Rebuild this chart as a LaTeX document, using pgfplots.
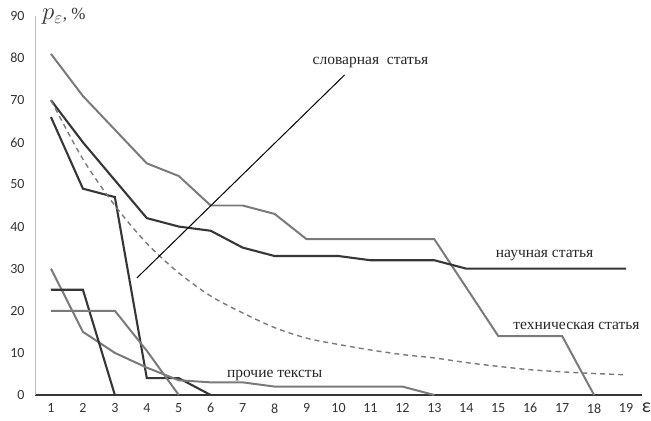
\documentclass[border=0pt]{standalone}
\usepackage{fontspec}
\setmainfont{Liberation Serif}
\newfontfamily\tickfont{Carlito}
\usepackage{pgfplots}
\pgfplotsset{compat=1.18}
\usepackage{pgfplotstable}

\definecolor{dk}{HTML}{363636}
\definecolor{gr}{HTML}{7A7A7A}
\definecolor{axgr}{HTML}{B8B8B8}

% x, technical, scientific, dark66, trend(dashed), other30, dark25, gray20
\pgfplotstableread{
x  tech  sci  dk  trend  oth  dkb  grb
1  81    70   66  70     30   25   20
2  71    60   49  56     15   25   20
3  63    51   47  45     10   0    20
4  55    42   4   36     6.5  nan  10.5
5  52    40   4   29     3.5  nan  0
6  45    39   0   23.5   3    nan  nan
7  45    35   nan 19.5   3    nan  nan
8  43    33   nan 16     2    nan  nan
9  37    33   nan 13.5   2    nan  nan
10 37    33   nan 12     2    nan  nan
11 37    32   nan 10.7   2    nan  nan
12 37    32   nan 9.6    2    nan  nan
13 37    32   nan 8.8    0    nan  nan
14 25.5  30   nan 7.7    nan  nan  nan
15 14    30   nan 6.8    nan  nan  nan
16 14    30   nan 6.0    nan  nan  nan
17 14    30   nan 5.5    nan  nan  nan
18 0     30   nan 5.1    nan  nan  nan
19 nan   30   nan 4.8    nan  nan  nan
}\datatable

\begin{document}
\begin{tikzpicture}
\begin{axis}[
  scale only axis, width=607bp, height=379bp,
  xmin=0.5, xmax=19.5, ymin=0, ymax=90,
  axis x line=bottom, axis y line=left,
  axis line style={-},
  x axis line style={dk, line width=1.2pt},
  y axis line style={axgr, line width=1pt},
  xtick={1,...,19}, ytick={0,10,...,90},
  major tick length=0pt,
  tick label style={font=\tickfont\fontsize{14bp}{15bp}\selectfont, text=black!80},
  /pgf/number format/assume math mode=true,
  yticklabel style={xshift=-7bp},
  xticklabel style={yshift=-5bp},
  unbounded coords=jump,
  clip=false,
]
\addplot[gr, line width=2pt] table[x=x, y=tech] {\datatable};
\addplot[dk, line width=2.1pt] table[x=x, y=sci] {\datatable};
\addplot[dk, line width=2.1pt] table[x=x, y=dk] {\datatable};
\addplot[gr, line width=1.4pt, dash pattern=on 5bp off 4bp, smooth] table[x=x, y=trend] {\datatable};
\addplot[gr, line width=2pt] table[x=x, y=oth] {\datatable};
\addplot[dk, line width=2.1pt] table[x=x, y=dkb] {\datatable};
\addplot[gr, line width=2pt] table[x=x, y=grb] {\datatable};
% pointer line for the dictionary entry label
\addplot[black, line width=1pt] coordinates {(3.69,27.8) (10.19,76)};

\node[font=\fontsize{15.5bp}{16bp}\selectfont, text=black!85] at (axis cs:11,79) {словарная\ \ статья};
\node[font=\fontsize{15.5bp}{16bp}\selectfont, text=black!85] at (axis cs:16.45,33.2) {научная статья};
\node[font=\fontsize{15.5bp}{16bp}\selectfont, text=black!85] at (axis cs:17.45,16.4) {техническая статья};
\node[font=\fontsize{15.5bp}{16bp}\selectfont, text=black!85] at (axis cs:8.0,4.7) {прочие тексты};
\node[anchor=base west, inner sep=0pt, text=black!80] at (axis cs:0.72,89.1) {{\fontsize{24bp}{24bp}\selectfont$p_{\varepsilon}$}{\fontsize{17bp}{17bp}\selectfont, \%}};
\node[font=\tickfont\fontsize{20bp}{20bp}\selectfont, text=black!80] at (axis cs:19.64,-3) {ε};
\end{axis}
\pgfresetboundingbox
\path (-35bp,-26bp) rectangle (616bp,395bp);
\end{tikzpicture}
\end{document}
